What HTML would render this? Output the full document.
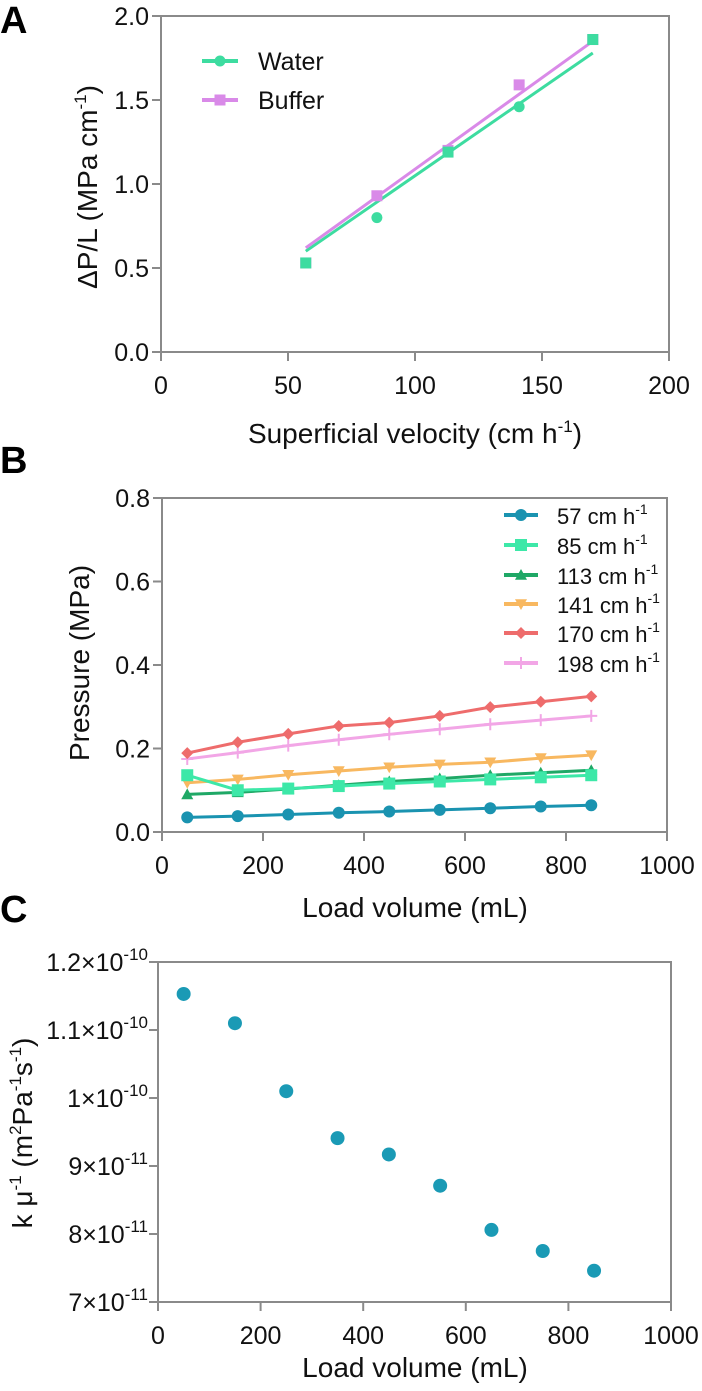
<!DOCTYPE html>
<html><head><meta charset="utf-8"><style>
html,body{margin:0;padding:0;background:#fff;}
svg{display:block;font-family:"Liberation Sans",Arial,sans-serif;}
.tick{font-size:25px;fill:#111;}
.ttl{font-size:28px;fill:#111;}
.ax{stroke:#8a8a8a;stroke-width:2;fill:none;}
</style></head><body>
<svg id="fig" width="702" height="1391" viewBox="0 0 702 1391" xmlns="http://www.w3.org/2000/svg">
<text x="0" y="33" font-size="38" font-weight="bold">A</text>
<text x="0" y="473" font-size="38" font-weight="bold">B</text>
<text x="0" y="922" font-size="38" font-weight="bold">C</text>
<g id="pa"></g>
<g id="pb"></g>
<g id="pc"></g>
</svg>
<script>
// Panel A data
const aVel = [57, 85, 113, 141, 170];
const aWater = [0.53, 0.80, 1.19, 1.46, 1.86];
const aBuffer = [0.53, 0.93, 1.20, 1.59, 1.86];
const aWaterFit = [0.60, 1.78];
const aBufferFit = [0.62, 1.85];
const aFitX = [57, 170];
const aXTicks = [0, 50, 100, 150, 200];
const aYTicks = ["0.0", "0.5", "1.0", "1.5", "2.0"];
// Panel B data
const bLoad = [50, 150, 250, 350, 450, 550, 650, 750, 850];
const bNames = ["57", "85", "113", "141", "170", "198"];
const b57 = [0.035, 0.038, 0.042, 0.046, 0.049, 0.053, 0.057, 0.061, 0.064];
const b85 = [0.136, 0.100, 0.104, 0.110, 0.116, 0.121, 0.126, 0.131, 0.136];
const b113 = [0.090, 0.095, 0.103, 0.112, 0.121, 0.128, 0.136, 0.142, 0.148];
const b141 = [0.118, 0.126, 0.137, 0.146, 0.155, 0.162, 0.167, 0.177, 0.184];
const b170 = [0.189, 0.215, 0.235, 0.254, 0.262, 0.278, 0.299, 0.312, 0.325];
const b198 = [0.175, 0.190, 0.207, 0.221, 0.234, 0.246, 0.258, 0.268, 0.278];
const bXTicks = [0, 200, 400, 600, 800, 1000];
const bYTicks = ["0.0", "0.2", "0.4", "0.6", "0.8"];
// Panel C data (units of 1e-10)
const cLoad = [50, 150, 250, 350, 450, 550, 650, 750, 850];
const cK = [1.153, 1.110, 1.010, 0.941, 0.917, 0.871, 0.806, 0.775, 0.746];
const cXTicks = [0, 200, 400, 600, 800, 1000];
const cYMant = ["7", "8", "9", "1", "1.1", "1.2"];
const cYExp = ["-11", "-11", "-11", "-10", "-10", "-10"];
const cYVals = [0.7, 0.8, 0.9, 1.0, 1.1, 1.2];

const NS = "http://www.w3.org/2000/svg";
function mk(parent, tag, attrs, txt) {
  const e = document.createElementNS(NS, tag);
  for (const k in attrs) e.setAttribute(k, attrs[k]);
  if (txt !== undefined) e.textContent = txt;
  parent.appendChild(e);
  return e;
}
function scale(d0, d1, r0, r1) { return v => r0 + (v - d0) * (r1 - r0) / (d1 - d0); }

function frame(g, x0, x1, y0, y1) {
  const r = mk(g, "rect", {x: x0, y: y1, width: x1 - x0, height: y0 - y1, class: "ax"});
  
  
}
function marker(g, shape, x, y, color, s) {
  let e;
  if (shape === "circle") e = mk(g, "circle", {cx: x, cy: y, r: s, fill: color});
  else if (shape === "square") e = mk(g, "rect", {x: x - s, y: y - s, width: 2 * s, height: 2 * s, fill: color});
  else if (shape === "tri") e = mk(g, "polygon", {points: `${x},${y - s} ${x - s},${y + s * 0.8} ${x + s},${y + s * 0.8}`, fill: color});
  else if (shape === "itri") e = mk(g, "polygon", {points: `${x},${y + s} ${x - s},${y - s * 0.8} ${x + s},${y - s * 0.8}`, fill: color});
  else if (shape === "diamond") e = mk(g, "polygon", {points: `${x},${y - s} ${x + s},${y} ${x},${y + s} ${x - s},${y}`, fill: color});
  else e = mk(g, "path", {d: `M${x - s},${y}H${x + s}M${x},${y - s}V${y + s}`, stroke: color, "stroke-width": 2});
  return e;
}

// ---------- Panel A ----------
(function () {
  const g = document.getElementById("pa");
  const X0 = 161, X1 = 669, Y0 = 352, Y1 = 16;
  const x = scale(0, 200, X0, X1), y = scale(0, 2, Y0, Y1);
  frame(g, X0, X1, Y0, Y1);
  aXTicks.forEach(t => {
    const l = mk(g, "line", {x1: x(t), x2: x(t), y1: Y0, y2: Y0 + 9, class: "ax"});
    
    
    const tx = mk(g, "text", {x: x(t), y: 394, "text-anchor": "middle", class: "tick"}, String(t));
    
    
  });
  aYTicks.forEach(t => {
    const v = parseFloat(t);
    const l = mk(g, "line", {x1: X0 - 9, x2: X0, y1: y(v), y2: y(v), class: "ax"});
    
    
    const tx = mk(g, "text", {x: X0 - 12, y: y(v) + 9, "text-anchor": "end", class: "tick"}, t);
    
    
  });
  const fw = mk(g, "line", {x1: x(aFitX[0]), y1: y(aWaterFit[0]), x2: x(aFitX[1]), y2: y(aWaterFit[1]), stroke: "#3ddca0", "stroke-width": 3});
  
  
  const fb = mk(g, "line", {x1: x(aFitX[0]), y1: y(aBufferFit[0]), x2: x(aFitX[1]), y2: y(aBufferFit[1]), stroke: "#d98ae8", "stroke-width": 3});
  
  
  aVel.forEach((v, i) => {
    const m = marker(g, "square", x(v), y(aBuffer[i]), "#d98ae8", 5.5);
    
    
  });
  aVel.forEach((v, i) => {
    const sh = (i === 0 || i === 2 || i === 4) ? "square" : "circle";
    const m = marker(g, sh, x(v), y(aWater[i]), "#3ddca0", 5.5);
    
    
  });
  const lg = mk(g, "g", {});
  
  
  mk(lg, "line", {x1: 202, x2: 238, y1: 61, y2: 61, stroke: "#3ddca0", "stroke-width": 4});
  marker(lg, "circle", 220, 61, "#3ddca0", 5.5);
  mk(lg, "text", {x: 258, y: 70, class: "tick"}, "Water");
  mk(lg, "line", {x1: 202, x2: 238, y1: 100, y2: 100, stroke: "#d98ae8", "stroke-width": 4});
  marker(lg, "square", 220, 100, "#d98ae8", 5.5);
  mk(lg, "text", {x: 258, y: 109, class: "tick"}, "Buffer");
  const xt = mk(g, "text", {x: 415, y: 443, "text-anchor": "middle", class: "ttl"});
  
  
  xt.innerHTML = 'Superficial velocity (cm h<tspan dy="-11" font-size="17">-1</tspan><tspan dy="11">)</tspan>';
  const yt = mk(g, "text", {x: 0, y: 0, "text-anchor": "middle", class: "ttl", transform: "translate(97,187) rotate(-90)"});
  
  
  yt.innerHTML = 'ΔP/L (MPa cm<tspan dy="-11" font-size="17">-1</tspan><tspan dy="11">)</tspan>';
})();

// ---------- Panel B ----------
(function () {
  const g = document.getElementById("pb");
  const X0 = 162, X1 = 667, Y0 = 832, Y1 = 498;
  const x = scale(0, 1000, X0, X1), y = scale(0, 0.8, Y0, Y1);
  frame(g, X0, X1, Y0, Y1);
  bXTicks.forEach(t => {
    const l = mk(g, "line", {x1: x(t), x2: x(t), y1: Y0, y2: Y0 + 9, class: "ax"});
    
    
    const tx = mk(g, "text", {x: x(t), y: 874, "text-anchor": "middle", class: "tick"}, String(t));
    
    
  });
  bYTicks.forEach(t => {
    const v = parseFloat(t);
    const l = mk(g, "line", {x1: X0 - 9, x2: X0, y1: y(v), y2: y(v), class: "ax"});
    
    
    const tx = mk(g, "text", {x: X0 - 12, y: y(v) + 9, "text-anchor": "end", class: "tick"}, t);
    
    
  });
  const series = [b57, b85, b113, b141, b170, b198];
  const colors = ["#1a93b0", "#3de8a8", "#1fa866", "#f8b860", "#ee6c6c", "#f2a6e6"];
  const shapes = ["circle", "square", "tri", "itri", "diamond", "plus"];
  const order = [5, 4, 3, 2, 1, 0];
  order.forEach(si => {
    const s = series[si];
    const pts = bLoad.map((v, i) => `${x(v)},${y(s[i])}`).join(" ");
    const pl = mk(g, "polyline", {points: pts, fill: "none", stroke: colors[si], "stroke-width": 3});
    
    
    bLoad.forEach((v, i) => {
      const m = marker(g, shapes[si], x(v), y(s[i]), colors[si], 6);
      
      
    });
  });
  const rowsY = [515, 545, 575, 604, 633, 663];
  bNames.forEach((n, i) => {
    const lg = mk(g, "g", {});
    
    
    mk(lg, "line", {x1: 504, x2: 538, y1: rowsY[i], y2: rowsY[i], stroke: colors[i], "stroke-width": 4});
    marker(lg, shapes[i], 521, rowsY[i], colors[i], 6);
    const t = mk(lg, "text", {x: 557, y: rowsY[i] + 9, class: "tick"});
    t.style.fontSize = "22px";
    t.innerHTML = n + ' cm h<tspan dy="-10" font-size="14">-1</tspan>';
  });
  const xt = mk(g, "text", {x: 415, y: 917, "text-anchor": "middle", class: "ttl"}, "Load volume (mL)");
  
  
  const yt = mk(g, "text", {x: 0, y: 0, "text-anchor": "middle", class: "ttl", transform: "translate(89,663) rotate(-90)"}, "Pressure (MPa)");
  
  
})();

// ---------- Panel C ----------
(function () {
  const g = document.getElementById("pc");
  const X0 = 158, X1 = 671, Y0 = 1302, Y1 = 962;
  const x = scale(0, 1000, X0, X1), y = scale(0.7, 1.2, Y0, Y1);
  frame(g, X0, X1, Y0, Y1);
  cXTicks.forEach(t => {
    const l = mk(g, "line", {x1: x(t), x2: x(t), y1: Y0, y2: Y0 + 9, class: "ax"});
    
    
    const tx = mk(g, "text", {x: x(t), y: 1344, "text-anchor": "middle", class: "tick"}, String(t));
    
    
  });
  cYVals.forEach((v, i) => {
    const l = mk(g, "line", {x1: X0 - 9, x2: X0, y1: y(v), y2: y(v), class: "ax"});
    
    
    const tx = mk(g, "text", {x: X0 - 10, y: y(v) + 9, "text-anchor": "end", class: "tick"});
    
    
    tx.innerHTML = cYMant[i] + '×10<tspan dy="-11" font-size="17">' + cYExp[i] + '</tspan>';
  });
  cLoad.forEach((v, i) => {
    const c = mk(g, "circle", {cx: x(v), cy: y(cK[i]), r: 7, fill: "#1a9ab5"});
    
    
  });
  const xt = mk(g, "text", {x: 415, y: 1377, "text-anchor": "middle", class: "ttl"}, "Load volume (mL)");
  
  
  const yt = mk(g, "text", {x: 0, y: 0, "text-anchor": "middle", class: "ttl", transform: "translate(32,1133) rotate(-90)"});
  
  
  yt.innerHTML = 'k μ<tspan dy="-11" font-size="17">-1</tspan><tspan dy="11"> (m</tspan><tspan dy="-11" font-size="17">2</tspan><tspan dy="11">Pa</tspan><tspan dy="-11" font-size="17">-1</tspan><tspan dy="11">s</tspan><tspan dy="-11" font-size="17">-1</tspan><tspan dy="11">)</tspan>';
})();
</script>
</body></html>
